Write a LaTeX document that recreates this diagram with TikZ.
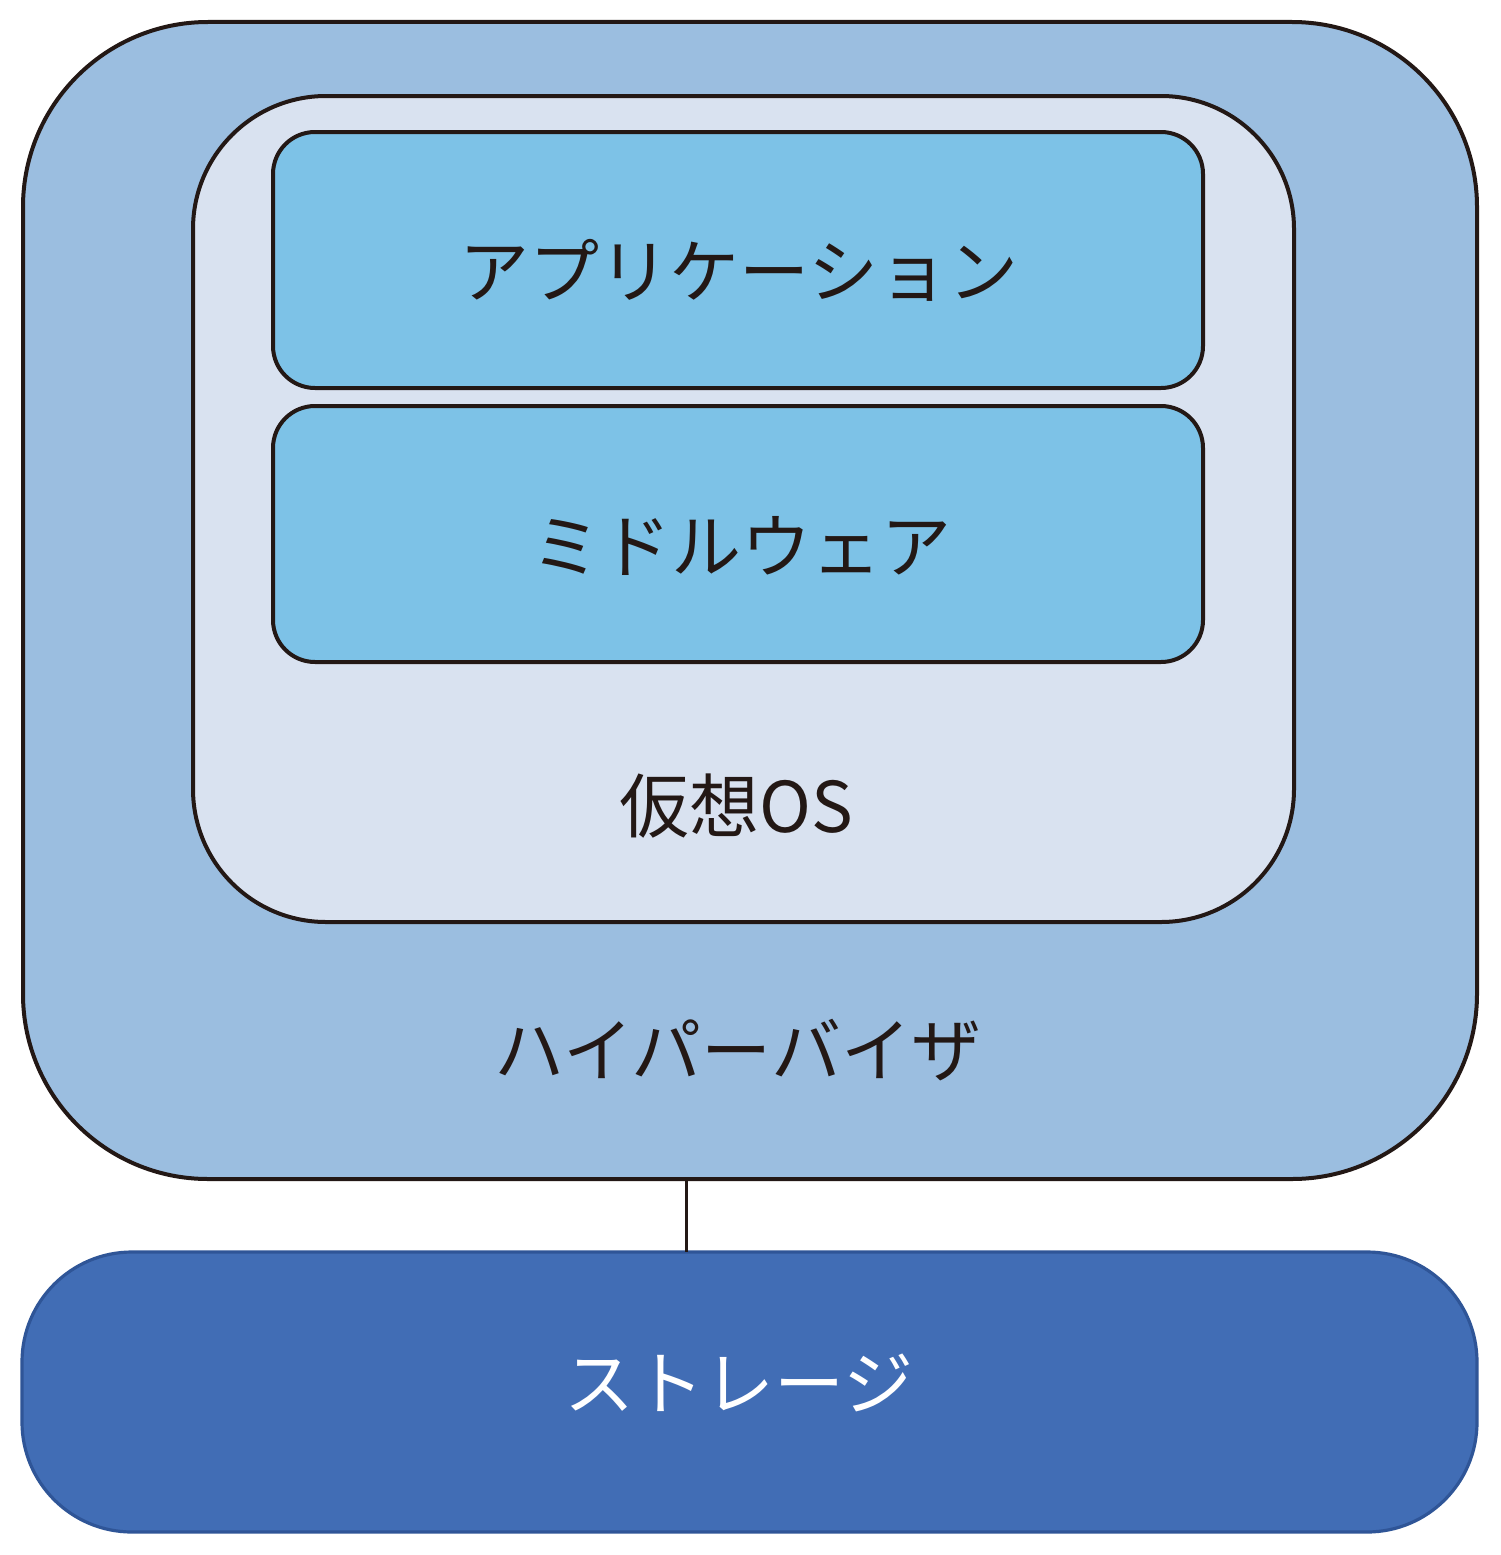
\documentclass[tikz,border=0pt]{standalone}
\usepackage{fontspec}
\setmainfont{Noto Sans CJK JP}
\definecolor{hypfill}{HTML}{9BBEE0}
\definecolor{osfill}{HTML}{D9E2F0}
\definecolor{appfill}{HTML}{7DC2E7}
\definecolor{storfill}{HTML}{416DB5}
\definecolor{storline}{HTML}{2F5597}
\definecolor{ink}{HTML}{231815}
\tikzset{
  layerbox/.style={draw=ink, line width=4pt, inner sep=0pt, outer sep=0pt},
  label text/.style={text=ink, inner sep=0pt, anchor=base, font=\fontsize{70}{84}\selectfont},
}
\begin{document}
\begin{tikzpicture}[x=1pt,y=-1pt]
\useasboundingbox (0,0) rectangle (1500,1555);
\fill[white] (0,0) rectangle (1500,1555);
% hypervisor
\node[layerbox, fill=hypfill, minimum width=1454pt, minimum height=1157pt, rounded corners=185pt] (hyp) at (750,600.5) {};
% virtual OS
\node[layerbox, fill=osfill, minimum width=1101pt, minimum height=826pt, rounded corners=133pt] (os) at (743.5,509) {};
% application
\node[layerbox, fill=appfill, minimum width=930pt, minimum height=256pt, rounded corners=42pt] (app) at (738,260) {};
% middleware
\node[layerbox, fill=appfill, minimum width=930pt, minimum height=256pt, rounded corners=42pt] (mw) at (738,534) {};
% storage
\node[draw=storline, line width=3.2pt, fill=storfill, inner sep=0pt, outer sep=0pt, minimum width=1455pt, minimum height=280pt, rounded corners=110pt] (stor) at (749.5,1392) {};
% connector
\coordinate (cx) at (686,0);
\draw[ink, line width=3pt] (hyp.south -| cx) -- (stor.north -| cx);
% texts
\node[label text] (tapp) at (739,297) {アプリケーション};
\node[label text] (tmw) at (741,572) {ミドルウェア};
\node[label text] (tos) at (736,832) {仮想OS};
\node[label text] (thyp) at (738,1076) {ハイパーバイザ};
\node[label text, text=white] (tstor) at (739,1409) {ストレージ};
\end{tikzpicture}
\end{document}
